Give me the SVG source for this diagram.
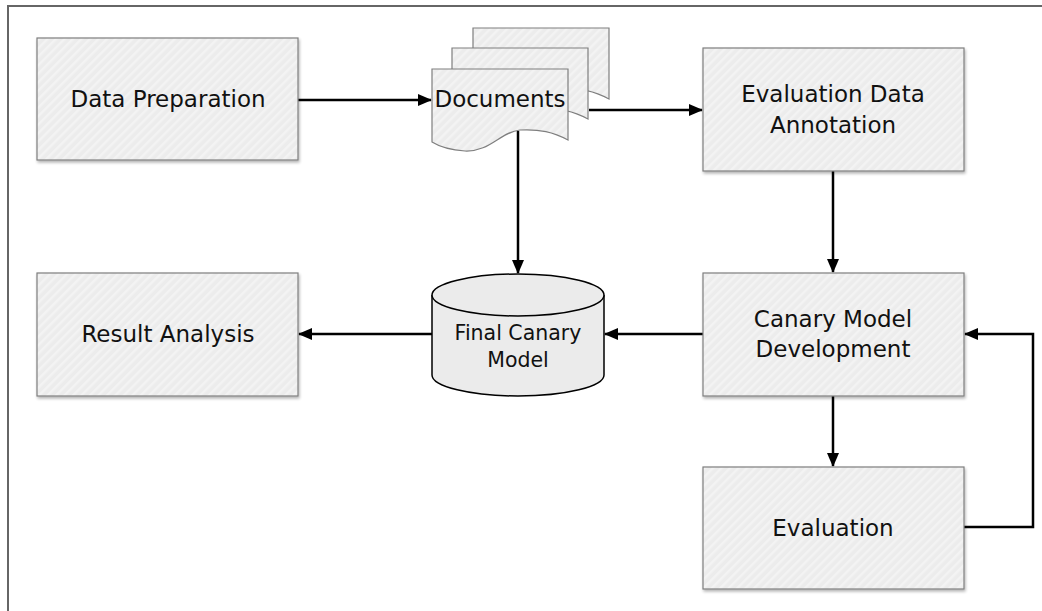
<svg xmlns="http://www.w3.org/2000/svg" width="1042" height="611" viewBox="0 0 1042 611">
<style>
.box{fill:url(#hatch);stroke:#7f7f7f;stroke-width:1.2;filter:url(#sh)}
.page{fill:url(#hatch);stroke:#7f7f7f;stroke-width:1.2}
.lbl{font-family:"DejaVu Sans",Verdana,sans-serif;font-size:23px;fill:#111;text-anchor:middle}
.sm{font-size:20.5px}
.con{fill:none;stroke:#000;stroke-width:2.5}
</style>
<defs>
<pattern id="hatch" width="6" height="6" patternUnits="userSpaceOnUse" patternTransform="rotate(45)">
<rect width="6" height="6" fill="#ececec"/>
<rect width="2.5" height="6" fill="#f3f3f3"/>
</pattern>
<filter id="sh" x="-10%" y="-10%" width="130%" height="130%">
<feGaussianBlur in="SourceAlpha" stdDeviation="1.5"/>
<feOffset dx="1" dy="2" result="b"/>
<feComponentTransfer><feFuncA type="linear" slope="0.3"/></feComponentTransfer>
<feMerge><feMergeNode/><feMergeNode in="SourceGraphic"/></feMerge>
</filter>
<marker id="ah" markerWidth="14" markerHeight="12" refX="13" refY="6" orient="auto" markerUnits="userSpaceOnUse">
<path d="M0,0 L14,6 L0,12 Z" fill="#000"/>
</marker>
<path id="doc" d="M432,69 H568 V140 C553,132 540,129 520,130 C500,132 490,152 465,151 C450,150 440,147 432,142 Z"/>
</defs>
<rect width="1042" height="611" fill="#fff"/>
<path d="M8,611 V6 H1042" fill="none" stroke="#666" stroke-width="2"/>

<g id="connectors">
<path class="con" d="M298,100 H431" marker-end="url(#ah)"/>
<path class="con" d="M589,110 H702" marker-end="url(#ah)"/>
<path class="con" d="M518,131 V273" marker-end="url(#ah)"/>
<path class="con" d="M833,171 V272" marker-end="url(#ah)"/>
<path class="con" d="M833,396 V466" marker-end="url(#ah)"/>
<path class="con" d="M964,527 H1033 V334 H965" marker-end="url(#ah)"/>
<path class="con" d="M703,334 H605" marker-end="url(#ah)"/>
<path class="con" d="M432,334 H299" marker-end="url(#ah)"/>
</g>

<g id="data-preparation">
<rect class="box" x="37" y="38" width="261" height="122"/>
<text class="lbl" x="168" y="107">Data Preparation</text>
</g>

<g id="documents">
<use href="#doc" class="page" transform="translate(41,-41)"/>
<use href="#doc" class="page" transform="translate(20,-21)"/>
<use href="#doc" class="page"/>
<text class="lbl" x="500" y="107">Documents</text>
</g>

<g id="evaluation-data-annotation">
<rect class="box" x="703" y="48" width="261" height="123"/>
<text class="lbl" x="833" y="102">Evaluation Data</text>
<text class="lbl" x="833" y="133">Annotation</text>
</g>

<g id="final-canary-model">
<path d="M432,295 V375 A86,21 0 0 0 604,375 V295" fill="#ebebeb" stroke="#000" stroke-width="1.5"/>
<ellipse cx="518" cy="295" rx="86" ry="21" fill="#ebebeb" stroke="#000" stroke-width="1.5"/>
<text class="lbl sm" x="518" y="340">Final Canary</text>
<text class="lbl sm" x="518" y="367">Model</text>
</g>

<g id="result-analysis">
<rect class="box" x="37" y="273" width="261" height="123"/>
<text class="lbl" x="168" y="342">Result Analysis</text>
</g>

<g id="canary-model-development">
<rect class="box" x="703" y="273" width="261" height="123"/>
<text class="lbl" x="833" y="327">Canary Model</text>
<text class="lbl" x="833" y="357">Development</text>
</g>

<g id="evaluation">
<rect class="box" x="703" y="467" width="261" height="122"/>
<text class="lbl" x="833" y="536">Evaluation</text>
</g>
</svg>
